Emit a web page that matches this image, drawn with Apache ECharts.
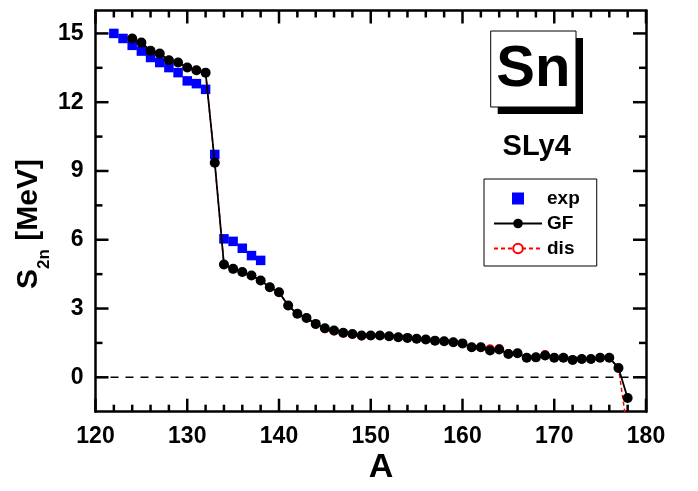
<!DOCTYPE html>
<html>
<head>
<meta charset="utf-8">
<script src="https://cdn.jsdelivr.net/npm/echarts@6/dist/echarts.min.js"></script>
<style>
  html, body { margin: 0; padding: 0; background: #fff; }
  #main { width: 698px; height: 491px; }
</style>
</head>
<body>
<div id="main"></div>
<script>
// experimental S2n
const expA = [122, 123, 124, 125, 126, 127, 128, 129, 130, 131, 132, 133, 134, 135, 136, 137, 138];
const expS2n = [15.0, 14.78, 14.48, 14.23, 13.95, 13.73, 13.51, 13.29, 12.93, 12.81, 12.56, 9.72, 6.04, 5.93, 5.63, 5.31, 5.10];

// GF and dis calculations (SLy4)
const calcA = [124, 125, 126, 127, 128, 129, 130, 131, 132, 133, 134, 135, 136, 137, 138, 139, 140,
  141, 142, 143, 144, 145, 146, 147, 148, 149, 150, 151, 152, 153, 154, 155, 156, 157, 158, 159, 160,
  161, 162, 163, 164, 165, 166, 167, 168, 169, 170, 171, 172, 173, 174, 175, 176, 177, 178];
const gfS2n = [14.78, 14.6, 14.24, 14.12, 13.83, 13.73, 13.51, 13.39, 13.29, 9.36, 4.92, 4.73, 4.59, 4.44, 4.22, 3.93, 3.71,
  3.13, 2.77, 2.59, 2.33, 2.14, 2.04, 1.94, 1.89, 1.82, 1.82, 1.82, 1.79, 1.75, 1.72, 1.68, 1.65, 1.60, 1.57, 1.53, 1.48,
  1.31, 1.31, 1.17, 1.21, 1.02, 1.05, 0.85, 0.87, 0.95, 0.85, 0.85, 0.76, 0.80, 0.80, 0.85, 0.85, 0.41, -0.90];
const disS2n = [14.78, 14.6, 14.24, 14.12, 13.83, 13.73, 13.51, 13.39, 13.29, 9.36, 4.92, 4.73, 4.59, 4.44, 4.22, 3.93, 3.71,
  3.13, 2.77, 2.59, 2.31, 2.12, 2.02, 1.92, 1.87, 1.80, 1.82, 1.82, 1.79, 1.75, 1.72, 1.68, 1.65, 1.60, 1.57, 1.53, 1.48,
  1.31, 1.31, 1.25, 1.26, 1.04, 1.05, 0.85, 0.87, 1.0, 0.85, 0.85, 0.76, 0.80, 0.80, 0.85, 0.85, 0.41, -2.4];

// tick values
const xMajor = [120, 130, 140, 150, 160, 170, 180];
const xMinor = [122, 124, 126, 128, 132, 134, 136, 138, 142, 144, 146, 148, 152, 154, 156, 158,
  162, 164, 166, 168, 172, 174, 176, 178];
const yMajor = [0, 3, 6, 9, 12, 15];
const yMinor = [1.5, 4.5, 7.5, 10.5, 13.5];

const X_MIN = 120, X_MAX = 180, Y_MIN = -1.5, Y_MAX = 16;

const pairs = (xs, ys) => xs.map((x, i) => [x, ys[i]]);

var chartDom = document.getElementById('main');
var myChart = echarts.init(chartDom);

const FONT = 'Liberation Sans, Arial, sans-serif';

function frameAxis(dim, pos, labels) {
  var ax = {
    type: 'value', position: pos,
    min: dim === 'x' ? X_MIN : Y_MIN, max: dim === 'x' ? X_MAX : Y_MAX,
    axisLine: { show: true, onZero: false, lineStyle: { color: '#000', width: 2.5 } },
    splitLine: { show: false },
    axisTick: { show: false },
    axisLabel: { show: false }
  };
  if (dim === 'x') ax.interval = 10;
  if (labels) {
    ax.axisLabel = {
      show: true, color: '#000', fontFamily: FONT, fontWeight: 'bold', fontSize: 23,
      margin: dim === 'x' ? 13 : 12
    };
    if (dim === 'y') ax.axisLabel.customValues = yMajor.slice();
  }
  return ax;
}

const baseGraphics = [
  // axis titles
  { type: 'text', x: 381, y: 468, style: { text: 'A', font: 'bold 34px ' + FONT, fill: '#000', textAlign: 'center', textVerticalAlign: 'middle' } },
  {
    type: 'text', x: 27, y: 224, rotation: Math.PI / 2,
    style: {
      text: '{a|S}{b|2n}{a| [MeV]}', fill: '#000', textAlign: 'center', textVerticalAlign: 'middle',
      rich: {
        a: { fontFamily: FONT, fontWeight: 'bold', fontSize: 30, lineHeight: 34, verticalAlign: 'bottom' },
        b: { fontFamily: FONT, fontWeight: 'bold', fontSize: 17, lineHeight: 34, verticalAlign: 'bottom', padding: [0, 0, -9, 0] }
      }
    }
  },
  // "Sn" box with shadow
  { type: 'rect', shape: { x: 497.7, y: 38, width: 85.3, height: 76 }, style: { fill: '#000' } },
  { type: 'rect', shape: { x: 490.7, y: 31, width: 85.3, height: 76 }, style: { fill: '#fff', stroke: '#000', lineWidth: 1 } },
  { type: 'text', x: 533.3, y: 70, style: { text: 'Sn', font: 'bold 58px ' + FONT, fill: '#000', textAlign: 'center', textVerticalAlign: 'middle' } },
  { type: 'text', x: 536.7, y: 146.7, style: { text: 'SLy4', font: 'bold 29px ' + FONT, fill: '#000', textAlign: 'center', textVerticalAlign: 'middle' } }
];

var option = {
  animation: false,
  backgroundColor: '#fff',
  grid: { left: 95.5, right: 52, top: 10.5, bottom: 79.3 },
  xAxis: [frameAxis('x', 'bottom', true), frameAxis('x', 'top', false)],
  yAxis: [frameAxis('y', 'left', true), frameAxis('y', 'right', false)],
  legend: {
    orient: 'vertical',
    left: 484, top: 179,
    padding: [10, 17, 8, 9],
    itemWidth: 48, itemHeight: 12, itemGap: 6,
    borderColor: '#000', borderWidth: 1,
    textStyle: { color: '#000', fontFamily: FONT, fontWeight: 'bold', fontSize: 19, lineHeight: 19 },
    data: [
      { name: 'exp', icon: 'path://M0,0 L10,0 L10,10 L0,10 Z' },
      { name: 'GF' },
      { name: 'dis' }
    ]
  },
  graphic: baseGraphics,
  series: [
    {
      name: 'zero', type: 'line', data: [[X_MIN, 0], [X_MAX, 0]], symbol: 'none', silent: true,
      lineStyle: { color: '#000', width: 1.5, type: [8, 7] }
    },
    {
      name: 'dis', type: 'line', data: pairs(calcA, disS2n),
      symbol: 'emptyCircle', symbolSize: 7, clip: true,
      itemStyle: { color: '#ff0000', borderWidth: 1.3 },
      lineStyle: { color: '#ff0000', width: 1.5, type: [4, 3] }
    },
    {
      name: 'GF', type: 'line', data: pairs(calcA, gfS2n),
      symbol: 'circle', symbolSize: 10, clip: true,
      itemStyle: { color: '#000' },
      lineStyle: { color: '#000', width: 1.8 }
    },
    {
      name: 'exp', type: 'scatter', data: pairs(expA, expS2n),
      symbol: 'rect', symbolSize: 9.5,
      itemStyle: { color: '#0000ff', opacity: 1 }
    }
  ]
};

option && myChart.setOption(option);

// inward ticks on all four sides, placed through the chart's own scales
const toPx = (x, y) => myChart.convertToPixel({ xAxisIndex: 0, yAxisIndex: 0 }, [x, y]);
const tickGraphics = [];
function addTick(p, dx, dy) {
  tickGraphics.push({
    type: 'line', z: 50, silent: true,
    shape: { x1: p[0], y1: p[1], x2: p[0] + dx, y2: p[1] + dy },
    style: { stroke: '#000', lineWidth: 2.5 }
  });
}
xMajor.forEach(function (v) { addTick(toPx(v, Y_MIN), 0, -13); addTick(toPx(v, Y_MAX), 0, 13); });
xMinor.forEach(function (v) { addTick(toPx(v, Y_MIN), 0, -7); addTick(toPx(v, Y_MAX), 0, 7); });
yMajor.forEach(function (v) { addTick(toPx(X_MIN, v), 13, 0); addTick(toPx(X_MAX, v), -13, 0); });
yMinor.forEach(function (v) { addTick(toPx(X_MIN, v), 7, 0); addTick(toPx(X_MAX, v), -7, 0); });

myChart.setOption({ graphic: baseGraphics.concat(tickGraphics) });
</script>
</body>
</html>
